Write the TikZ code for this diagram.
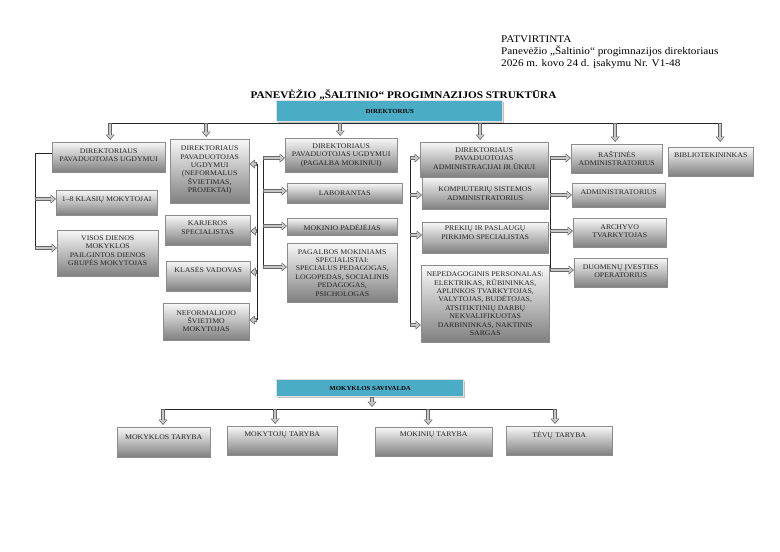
\documentclass[tikz,border=0pt]{standalone}
\usepackage{fontspec}
\setmainfont[FakeStretch=1.1]{Liberation Serif}
\usetikzlibrary{arrows.meta,shadows,calc}
\definecolor{tealc}{RGB}{75,172,198}
\tikzset{
  box/.style={draw=black!45, line width=0.4pt, top color=black!3, bottom color=black!50,
    drop shadow={shadow xshift=1.2pt, shadow yshift=-1.2pt, fill=black!70, opacity=0.45},
    inner sep=0pt, anchor=north west},
  tealbox/.style={fill=tealc, draw=black!12, line width=1.4pt,
    drop shadow={shadow xshift=1.2pt, shadow yshift=-1.2pt, fill=black!60, opacity=0.4},
    inner sep=0pt, anchor=north west, font=\bfseries\fontsize{6.2}{7}\selectfont},
  txt/.style={font=\fontsize{7.1}{8.4}\selectfont, align=center, inner sep=0pt, anchor=north, text=black!85},
  ln/.style={draw=black!85, line width=0.7pt},
  barrow/.style={draw=black!22, line width=2.1pt, shorten >=1.2pt, shorten <=0.7pt,
    -{Triangle[length=3.7pt,width=6.4pt,line width=0pt]},
    preaction={draw=black!60, line width=3.5pt, shorten >=0pt, shorten <=0pt,
      -{Triangle[length=5.4pt,width=9pt,line width=0pt]}}}
}
\newcommand\orgbox[7]{%
  \node[box, minimum width={(#4-#2)*1pt}, minimum height={(#5-#3)*1pt}] (#1) at (#2,#3) {};
  \node[txt] (#1-t) at ([yshift=-#6pt]#1.north) {#7};}
\begin{document}
\begin{tikzpicture}[x=1pt,y=-1pt]
\useasboundingbox[fill=white] (0,0) rectangle (780,552);
% header
\node[anchor=base west, align=left, font=\fontsize{10.2}{12}\selectfont, inner sep=0pt] (hdr) at (501,66.7)
  {PATVIRTINTA\\Panevėžio „Šaltinio“ progimnazijos direktoriaus\\2026 m. kovo 24 d. įsakymu Nr. V1-48};
\node[anchor=base, font=\bfseries\fontsize{10.2}{11}\selectfont, inner sep=0pt] (title) at (403.5,98.3)
  {PANEVĖŽIO „ŠALTINIO“ PROGIMNAZIJOS STRUKTŪRA};
% director
\node[tealbox, minimum width=226pt, minimum height=21pt] (dir) at (276,100) {DIREKTORIUS};
% boxes
\orgbox{p1}{52}{142}{165}{172}{6.5}{DIREKTORIAUS\\PAVADUOTOJAS UGDYMUI}
\orgbox{k18}{56}{190}{157}{215}{6.5}{1–8 KLASIŲ MOKYTOJAI}
\orgbox{visos}{57}{230}{158}{276}{5.5}{VISOS DIENOS\\MOKYKLOS\\PAILGINTOS DIENOS\\GRUPĖS MOKYTOJAS}
\orgbox{c2a}{170}{139}{249}{203}{6.8}{DIREKTORIAUS\\PAVADUOTOJAS\\UGDYMUI\\(NEFORMALUS\\ŠVIETIMAS,\\PROJEKTAI)}
\orgbox{c2b}{165}{215}{250}{245}{5.8}{KARJEROS\\SPECIALISTAS}
\orgbox{c2c}{166}{261}{250}{291}{5.8}{KLASĖS VADOVAS}
\orgbox{c2d}{163}{303}{249}{340}{7.2}{NEFORMALIOJO\\ŠVIETIMO\\MOKYTOJAS}
\orgbox{c3a}{285}{138}{397}{172}{5.5}{DIREKTORIAUS\\PAVADUOTOJAS UGDYMUI\\(PAGALBA MOKINIUI)}
\orgbox{c3b}{287}{183}{402}{203}{7.2}{LABORANTAS}
\orgbox{c3c}{287}{218}{397}{235}{6.8}{MOKINIO PADĖJĖJAS}
\orgbox{c3d}{287}{243}{397}{302}{6.2}{PAGALBOS MOKINIAMS\\SPECIALISTAI:\\SPECIALUS PEDAGOGAS,\\LOGOPEDAS, SOCIALINIS\\PEDAGOGAS,\\PSICHOLOGAS}
\orgbox{c4a}{420}{142}{548}{177}{5.5}{DIREKTORIAUS\\PAVADUOTOJAS\\ADMINISTRACIJAI IR ŪKIUI}
\orgbox{c4b}{422}{177}{548}{209}{9.8}{KOMPIUTERIŲ SISTEMOS\\ADMINISTRATORIUS}
\orgbox{c4c}{422}{222}{548}{253}{3.8}{PREKIŲ IR PASLAUGŲ\\PIRKIMO SPECIALISTAS}
\orgbox{c4d}{421}{265}{549}{342}{6.8}{NEPEDAGOGINIS PERSONALAS:\\ELEKTRIKAS, RŪBININKAS,\\APLINKOS TVARKYTOJAS,\\VALYTOJAS, BUDĖTOJAS,\\ATSITIKTINIŲ DARBŲ\\NEKVALIFIKUOTAS\\DARBININKAS, NAKTINIS\\SARGAS}
\orgbox{c5a}{571}{144}{662}{173}{6.8}{RAŠTINĖS\\ADMINISTRATORIUS}
\orgbox{c5b}{572}{183}{665}{207}{6.2}{ADMINISTRATORIUS}
\orgbox{c5c}{573}{218}{666}{247}{6.2}{ARCHYVO\\TVARKYTOJAS}
\orgbox{c5d}{574}{258}{667}{287}{6.2}{DUOMENŲ ĮVESTIES\\OPERATORIUS}
\orgbox{c6}{668}{147}{753}{176}{5.5}{BIBLIOTEKININKAS}
% self-government
\node[tealbox, minimum width=187pt, minimum height=17pt] (sav) at (276,379) {MOKYKLOS SAVIVALDA};
\orgbox{b1}{117}{427}{210}{457}{7.2}{MOKYKLOS TARYBA}
\orgbox{b2}{227}{426}{337}{455}{5.5}{MOKYTOJŲ TARYBA}
\orgbox{b3}{375}{427}{492}{456}{4.5}{MOKINIŲ TARYBA}
\orgbox{b4}{506}{426}{612}{455}{5.5}{TĖVŲ TARYBA}
% top bus
\coordinate (busL) at (110,123);
\coordinate (busR) at (720,123);
\draw[ln] (busL) -- (busR);
\draw[barrow] ([xshift=1.5pt]p1.north |- busL) -- ([xshift=1.5pt,yshift=2pt]p1.north);
\draw[barrow] ([xshift=-3.5pt]c2a.north |- busL) -- ([xshift=-3.5pt,yshift=2pt]c2a.north);
\draw[barrow] ([xshift=-1pt]c3a.north |- busL) -- ([xshift=-1pt,yshift=2pt]c3a.north);
\draw[barrow] ([xshift=-4pt]c4a.north |- busL) -- ([xshift=-4pt,yshift=2pt]c4a.north);
\draw[barrow] ([xshift=-1.5pt]c5a.north |- busL) -- ([xshift=-1.5pt,yshift=2pt]c5a.north);
\draw[barrow] ([xshift=9.5pt]c6.north |- busL) -- ([xshift=9.5pt,yshift=5pt]c6.north);
% left bracket
\coordinate (l1a) at (35,153);
\coordinate (l1b) at (35,248);
\draw[ln] (p1.west |- l1a) -- (l1a) -- (l1b);
\draw[barrow] (l1a |- 0,199) -- (k18.west |- 0,199);
\draw[barrow] (l1b) -- (visos.west |- l1b);
% column 2 bracket
\coordinate (r2a) at (257,164);
\coordinate (r2b) at (257,320);
\draw[ln] (r2a) -- (r2b);
\draw[barrow] (r2a) -- (c2a.east |- r2a);
\draw[barrow] (r2a |- 0,231) -- (c2b.east |- 0,231);
\draw[barrow] (r2a |- 0,272) -- (c2c.east |- 0,272);
\draw[barrow] (r2b) -- (c2d.east |- r2b);
% column 3 bracket
\coordinate (l3a) at (263,158);
\coordinate (l3b) at (263,267);
\draw[ln] (l3a) -- (l3b);
\draw[barrow] (l3a) -- (c3a.west |- l3a);
\draw[barrow] (l3a |- 0,191) -- (c3b.west |- 0,191);
\draw[barrow] (l3a |- 0,226) -- (c3c.west |- 0,226);
\draw[barrow] (l3b) -- (c3d.west |- l3b);
% column 4 left bracket
\coordinate (l4a) at (410,158);
\coordinate (l4b) at (410,325);
\draw[ln] (l4a) -- (l4b);
\draw[barrow] (l4a) -- (c4a.west |- l4a);
\draw[barrow] (l4a |- 0,195) -- (c4b.west |- 0,195);
\draw[barrow] (l4a |- 0,235) -- (c4c.west |- 0,235);
\draw[barrow] (l4b) -- (c4d.west |- l4b);
% column 4 right bracket
\coordinate (r4a) at (550,158);
\coordinate (r4b) at (550,270);
\draw[ln] (r4a) -- (r4b);
\draw[barrow] (r4a) -- (c5a.west |- r4a);
\draw[barrow] (r4a |- 0,195) -- (c5b.west |- 0,195);
\draw[barrow] (r4a |- 0,231) -- (c5c.west |- 0,231);
\draw[barrow] (r4b) -- (c5d.west |- r4b);
% bottom bus
\coordinate (bbL) at (163,409);
\coordinate (bbR) at (555,409);
\coordinate (savx) at (372,407);
\draw[ln] (bbL) -- (bbR);
\draw[barrow] (sav.south -| savx) -- (savx);
\draw[barrow] (bbL) -- ([yshift=2pt]b1.north -| bbL);
\draw[barrow] ([xshift=-7pt]b2.north |- bbL) -- ([xshift=-7pt,yshift=2pt]b2.north);
\draw[barrow] ([xshift=-5.5pt]b3.north |- bbL) -- ([xshift=-5.5pt,yshift=2pt]b3.north);
\draw[barrow] (bbR) -- ([yshift=2pt]b4.north -| bbR);
\end{tikzpicture}
\end{document}
